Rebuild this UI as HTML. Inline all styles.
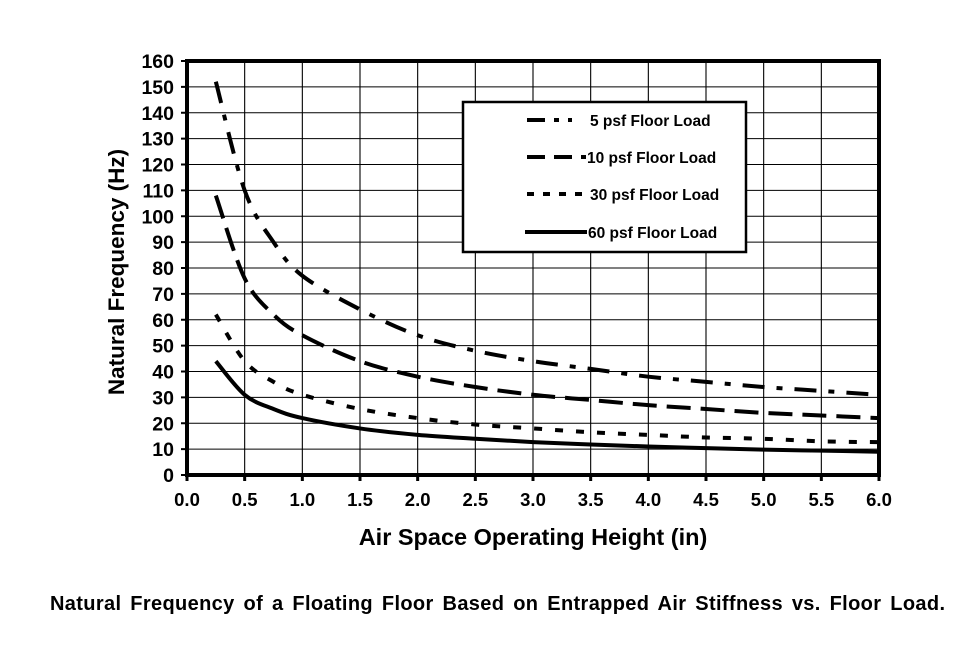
<!DOCTYPE html>
<html><head><meta charset="utf-8"><style>
body{margin:0;background:#fff;width:971px;height:663px;overflow:hidden}
svg text{font-family:"Liberation Sans",Arial,sans-serif;font-weight:bold;fill:#000}
</style></head><body>
<svg id="chart" width="971" height="663" xmlns="http://www.w3.org/2000/svg">
<g id="grid"></g>
<g id="series"></g>
<g id="axes"></g>
<g>
<rect x="463" y="102" width="283" height="150" fill="#fff" stroke="#000" stroke-width="2.5"/>
<line x1="527" y1="120" x2="572" y2="120" stroke="#000" stroke-width="4" stroke-dasharray="18,9,5,9"/>
<text x="590" y="126" font-size="15.5">5 psf Floor Load</text>
<line x1="527" y1="157" x2="586" y2="157" stroke="#000" stroke-width="4" stroke-dasharray="18,9"/>
<text x="587" y="163" font-size="15.5">10 psf Floor Load</text>
<line x1="527" y1="194" x2="587" y2="194" stroke="#000" stroke-width="4" stroke-dasharray="7,9"/>
<text x="590" y="200" font-size="15.5">30 psf Floor Load</text>
<line x1="525" y1="232" x2="587" y2="232" stroke="#000" stroke-width="4"/>
<text x="588" y="238" font-size="15.5">60 psf Floor Load</text>
</g>
<text transform="translate(124,272) rotate(-90)" text-anchor="middle" font-size="22.5">Natural Frequency (Hz)</text>
<text x="533" y="545" text-anchor="middle" font-size="23.5">Air Space Operating Height (in)</text>
<text x="50" y="610" font-size="20" word-spacing="3" textLength="895" lengthAdjust="spacing">Natural Frequency of a Floating Floor Based on Entrapped Air Stiffness vs. Floor Load.</text>
</svg>
<script>
const xs = [0.25,0.5,0.75,1,1.5,2,2.5,3,3.5,4,4.5,5,5.5,6];
const load5 = [152,110,90,77,64,54,48,44,41,38,36,34,32.5,31];
const load10 = [108,76,62,54,44,38,34,31,29,27,25.5,24,23,22];
const load30 = [62,44,36,31,25.5,22,19.5,18,16.5,15.5,14.5,14,13,12.7];
const load60 = [44,31,25.5,22,18,15.5,14,12.7,11.8,11,10.4,9.8,9.4,9];
const xTicks = ["0.0","0.5","1.0","1.5","2.0","2.5","3.0","3.5","4.0","4.5","5.0","5.5","6.0"];
const yTicks = ["0","10","20","30","40","50","60","70","80","90","100","110","120","130","140","150","160"];
const X0=187,X1=879,Y0=475,Y1=61;
function sx(v){return X0+(v/6)*(X1-X0);}
function sy(v){return Y0-(v/160)*(Y0-Y1);}
const NS="http://www.w3.org/2000/svg";
function mk(tag,attrs,parent){const e=document.createElementNS(NS,tag);for(const k in attrs)e.setAttribute(k,attrs[k]);parent.appendChild(e);return e;}
const grid=document.getElementById('grid'),axes=document.getElementById('axes'),ser=document.getElementById('series');
xTicks.forEach(t=>{const x=sx(parseFloat(t));
 const g=mk('line',{x1:x,y1:Y1,x2:x,y2:Y0,stroke:'#000','stroke-width':1.1},grid);
 
 
 const tk=mk('line',{x1:x,y1:Y0,x2:x,y2:Y0+6,stroke:'#000','stroke-width':3},axes);
 
 
 const tx=mk('text',{x:x,y:506,'text-anchor':'middle','font-size':18.5},axes);tx.textContent=t;
 
 
});
yTicks.forEach(t=>{const y=sy(parseFloat(t));
 const g=mk('line',{x1:X0,y1:y,x2:X1,y2:y,stroke:'#000','stroke-width':1.1},grid);
 
 
 const tk=mk('line',{x1:X0-6,y1:y,x2:X0,y2:y,stroke:'#000','stroke-width':2},axes);
 
 
 const tx=mk('text',{x:X0-13,y:y+7,'text-anchor':'end','font-size':19.5},axes);tx.textContent=t;
 
 
});
const fr=mk('rect',{x:X0,y:Y1,width:X1-X0,height:Y0-Y1,fill:'none',stroke:'#000','stroke-width':4},axes);


function path(vals){
 const p=xs.map((x,i)=>[sx(x),sy(vals[i])]);
 let d='M'+p[0][0]+','+p[0][1];
 for(let i=0;i<p.length-1;i++){
  const p0=p[Math.max(0,i-1)],p1=p[i],p2=p[i+1],p3=p[Math.min(p.length-1,i+2)];
  const c1=[p1[0]+(p2[0]-p0[0])/6,p1[1]+(p2[1]-p0[1])/6],c2=[p2[0]-(p3[0]-p1[0])/6,p2[1]-(p3[1]-p1[1])/6];
  d+=' C'+c1+' '+c2+' '+p2;
 }
 return d;
}
const s5=mk('path',{d:path(load5),fill:'none',stroke:'#000','stroke-width':4,'stroke-dasharray':'22,12,6,12'},ser);


const s10=mk('path',{d:path(load10),fill:'none',stroke:'#000','stroke-width':4,'stroke-dasharray':'24,10'},ser);


const s30=mk('path',{d:path(load30),fill:'none',stroke:'#000','stroke-width':4,'stroke-dasharray':'8,13'},ser);


const s60=mk('path',{d:path(load60),fill:'none',stroke:'#000','stroke-width':4},ser);


</script>
</body></html>
